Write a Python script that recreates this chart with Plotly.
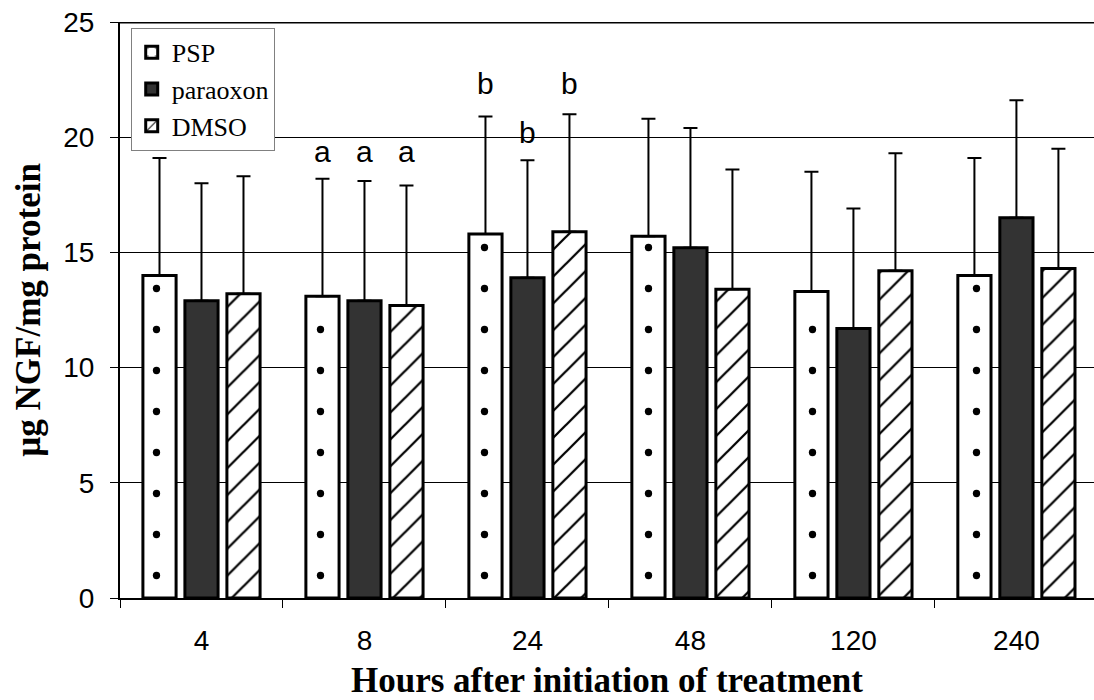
import plotly.graph_objects as go

hours = ["4", "8", "24", "48", "120", "240"]
psp = [14.0, 13.1, 15.8, 15.7, 13.3, 14.0]
psp_err_top = [19.1, 18.2, 20.9, 20.8, 18.5, 19.1]
paraoxon = [12.9, 12.9, 13.9, 15.2, 11.7, 16.5]
paraoxon_err_top = [18.0, 18.1, 19.0, 20.4, 16.9, 21.6]
dmso = [13.2, 12.7, 15.9, 13.4, 14.2, 14.3]
dmso_err_top = [18.3, 17.9, 21.0, 18.6, 19.3, 19.5]

# significance letters: (category, series index, letter, y)
sig_labels = [("8", 0, "a", 19.4), ("8", 1, "a", 19.4), ("8", 2, "a", 19.4),
              ("24", 0, "b", 22.35), ("24", 1, "b", 20.2), ("24", 2, "b", 22.35)]

W, H = 1094, 700
ML, MR, MT, MB = 120, 0, 22, 102
X_RANGE = [-0.5, 5.476]
BARGAP, GROUPGAP = 0.227, 0.21

def errs(vals, tops):
    return [round(t - v, 3) for v, t in zip(vals, tops)]

series = [
    ("PSP", psp, psp_err_top,
     dict(color="white", pattern=dict(shape=".", fgcolor="black", bgcolor="white",
                                      fgopacity=1, size=41, solidity=0.025))),
    ("paraoxon", paraoxon, paraoxon_err_top, dict(color="#333333")),
    ("DMSO", dmso, dmso_err_top,
     dict(color="white", pattern=dict(shape="/", fgcolor="black", bgcolor="white",
                                      fgopacity=1, size=19, solidity=0.12))),
]

fig = go.Figure()
# invisible trace establishing categories on the main (axis) subplot
fig.add_trace(go.Scatter(x=hours, y=[0] * len(hours), mode="markers",
                         marker=dict(opacity=0), showlegend=False, hoverinfo="skip",
                         xaxis="x", yaxis="y"))
for name, vals, tops, mk in series:
    marker = dict(mk)
    marker["line"] = dict(color="black", width=3)
    fig.add_trace(go.Bar(
        name=name, x=hours, y=vals, marker=marker, xaxis="x2", yaxis="y2",
        error_y=dict(type="data", symmetric=False, array=errs(vals, tops),
                     arrayminus=[0] * len(vals), color="black", thickness=2, width=7),
    ))

slot = (1 - BARGAP) / 3
for cat, idx, letter, yv in sig_labels:
    ci = hours.index(cat)
    fig.add_annotation(x=ci + (idx - 1) * slot, y=yv, xref="x", yref="y", text=letter,
                       showarrow=False,
                       font=dict(family="Liberation Sans, Arial", size=30, color="black"))

# bar subplot: same data scale, origin shifted so the dot fill lines up within bars
plot_w = W - ML - MR
px_per_unit = plot_w / (X_RANGE[1] - X_RANGE[0])
shift_px = 16
x2_domain = [shift_px / plot_w, 1]
x2_range = [X_RANGE[0] + shift_px / px_per_unit, X_RANGE[1]]

fig.add_shape(type="line", xref="paper", yref="y", x0=0, x1=1, y0=25, y1=25,
              line=dict(color="black", width=3))

fig.update_layout(
    width=W, height=H,
    margin=dict(l=ML, r=MR, t=MT, b=MB),
    paper_bgcolor="white", plot_bgcolor="rgba(0,0,0,0)",
    barmode="group", bargap=BARGAP, bargroupgap=GROUPGAP,
    font=dict(family="Liberation Sans, Arial", size=20, color="black"),
    legend=dict(x=0.011, y=0.99, xanchor="left", yanchor="top",
                bgcolor="white", bordercolor="#808080", borderwidth=1,
                font=dict(family="Liberation Serif, Times New Roman", size=26, color="black"),
                tracegroupgap=0, itemwidth=30),
    showlegend=True,
    xaxis=dict(
        type="category", range=X_RANGE, domain=[0, 1],
        showline=True, linecolor="black", linewidth=2, mirror=False,
        ticks="outside", tickson="boundaries", ticklen=8, tickcolor="black", tickwidth=1,
        tickfont=dict(family="Liberation Sans, Arial", size=28), ticklabelstandoff=16,
        title=dict(text="<b>Hours after initiation of treatment</b>",
                   font=dict(family="Liberation Serif, Times New Roman", size=35), standoff=14),
        showgrid=False, zeroline=False,
    ),
    yaxis=dict(
        range=[0, 25], tickvals=[0, 5, 10, 15, 20, 25], domain=[0, 1],
        showline=True, linecolor="black", linewidth=2,
        ticks="outside", ticklen=8, tickcolor="black", tickwidth=1,
        tickfont=dict(family="Liberation Sans, Arial", size=28), ticklabelstandoff=10,
        showgrid=True, gridcolor="black", gridwidth=1,
        title=dict(text="<b>µg NGF/mg protein</b>",
                   font=dict(family="Liberation Serif, Times New Roman", size=35), standoff=12),
        zeroline=False,
    ),
    xaxis2=dict(type="category", range=x2_range, domain=x2_domain, anchor="y2",
                visible=False, showgrid=False, zeroline=False),
    yaxis2=dict(range=[0, 25], domain=[0, 1], anchor="x2", visible=False,
                showgrid=False, zeroline=False),
)

fig.write_html("out.html")
